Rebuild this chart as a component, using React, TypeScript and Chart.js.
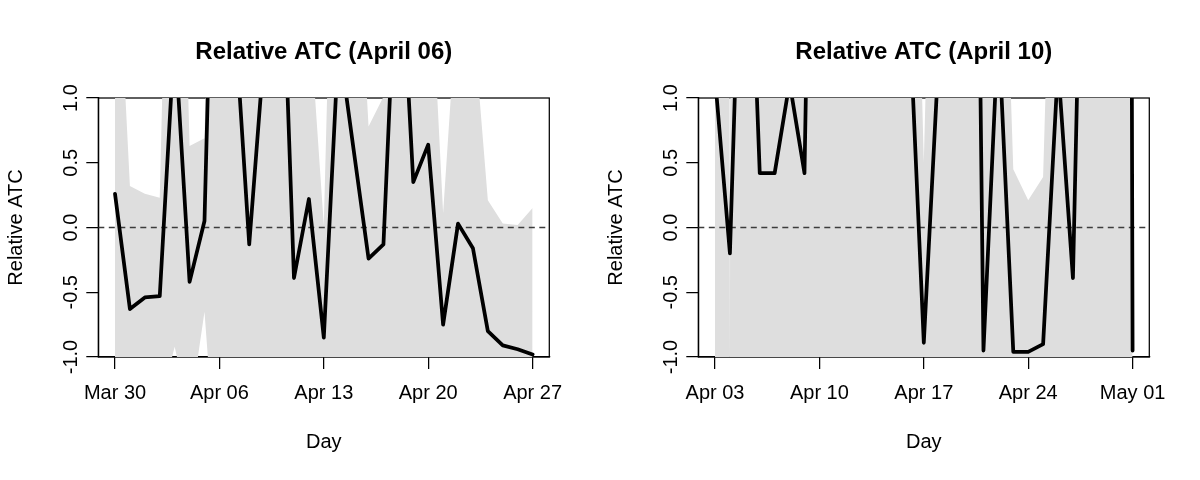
import React, { useEffect, useRef } from "react";
import { Chart, registerables } from "chart.js";

Chart.register(...registerables);

const FONT = "'Liberation Sans', Arial, Helvetica, sans-serif";

// ---------- data: left panel (April 06) ----------
const leftTitle = "Relative ATC (April 06)";
const leftDays = [
  "Mar 30", "Mar 31", "Apr 01", "Apr 02", "Apr 03", "Apr 04", "Apr 05", "Apr 06",
  "Apr 07", "Apr 08", "Apr 09", "Apr 10", "Apr 11", "Apr 12", "Apr 13", "Apr 14",
  "Apr 15", "Apr 16", "Apr 17", "Apr 18", "Apr 19", "Apr 20", "Apr 21", "Apr 22",
  "Apr 23", "Apr 24", "Apr 25", "Apr 26", "Apr 27",
];
const leftAtc = [
  0.26, -0.63, -0.54, -0.53, 1.5, -0.42, 0.05, 4.5, 1.67, -0.13, 1.36, 2.9, -0.39,
  0.22, -0.85, 1.45, 0.6, -0.24, -0.13, 2.5, 0.35, 0.64, -0.75, 0.03, -0.16, -0.8,
  -0.91, -0.94, -0.98,
];
const leftUpper = [
  2.6, 0.32, 0.26, 0.23, 5, 0.63, 0.69, 5.5, 2.4, 2.6, 2.8, 2.5, 2.3, 1.7, 0.02,
  4.5, 2.9, 0.78, 1.01, 3.0, 2.6, 2.4, 0.11, 1.85, 1.63, 0.21, 0.03, 0.02, 0.15,
];
const leftLower = [
  -2.5, -2.2, -2.0, -1.38, -0.92, -1.44, -0.65, -2.2, -2.6, -2.8, -2.5, -2.9, -2.4,
  -2.2, -2.6, -2.3, -2.7, -2.4, -2.2, -2.6, -2.5, -2.3, -2.8, -2.1, -2.4, -2.0,
  -1.9, -2.1, -2.2,
];

// ---------- data: right panel (April 10) ----------
const rightTitle = "Relative ATC (April 10)";
const rightDays = [
  "Apr 03", "Apr 04", "Apr 05", "Apr 06", "Apr 07", "Apr 08", "Apr 09", "Apr 10",
  "Apr 11", "Apr 12", "Apr 13", "Apr 14", "Apr 15", "Apr 16", "Apr 17", "Apr 18",
  "Apr 19", "Apr 20", "Apr 21", "Apr 22", "Apr 23", "Apr 24", "Apr 25", "Apr 26",
  "Apr 27", "Apr 28", "Apr 29", "Apr 30", "May 01",
];
const rightAtc = [
  1.16, -0.2, 3.5, 0.42, 0.42, 1.12, 0.42, 7, 4, 5, 4.5, 3.5, 3, 1.74, -0.89, 1.33,
  3, 9, -0.95, 1.55, -0.96, -0.96, -0.9, 1.25, -0.39, 4.8, 5, 40, -0.95,
];
const rightUpper = [
  90, -1.1, 90, 4, 4.5, 5, 4, 5, 4.5, 5, 4, 4.5, 5, 5, 0.5, 5, 4.5, 5, 4, 4, 0.45,
  0.21, 0.39, 4.4, 5, 4.5, 5, 4, 4.5,
];
const rightLower = [
  -3, -2.5, -3, -2.8, -2.6, -3, -2.7, -3, -2.9, -3, -2.8, -3, -2.6, -3, -2.7, -2.9,
  -3, -2.8, -3, -2.6, -2.9, -3, -2.7, -3, -2.8, -2.6, -3, -2.9, -3,
];

// ---------- axes ----------
const xTickIndex = [0, 7, 14, 21, 28];
const yTickValues = [-1, -0.5, 0, 0.5, 1];
const xAxisTitle = "Day";
const yAxisTitle = "Relative ATC";

type Panel = {
  title: string;
  days: string[];
  atc: number[];
  upper: number[];
  lower: number[];
};

const framePlugin = {
  id: "rframe",
  beforeDatasetsDraw(chart: any) {
    const { ctx, chartArea: a } = chart;
    ctx.save();
    ctx.strokeStyle = "#000";
    ctx.lineWidth = 1.25;
    ctx.strokeRect(a.left, a.top, a.right - a.left, a.bottom - a.top);
    ctx.restore();
  },
  afterDraw(chart: any, _args: any, opts: any) {
    const { ctx, chartArea: a } = chart;
    ctx.save();
    ctx.font = `bold 24px ${FONT}`;
    ctx.fillStyle = "#000";
    ctx.textAlign = "center";
    ctx.textBaseline = "alphabetic";
    ctx.fillText(opts.text, (a.left + a.right) / 2, 59);
    ctx.restore();
  },
};

function buildConfig(p: Panel): any {
  const span = p.days.length - 1;
  const xmin = -0.04 * span;
  const xmax = span + 0.04 * span;
  const pts = (arr: number[]) => arr.map((y, i) => ({ x: i, y }));
  const axisCommon = {
    grid: {
      drawOnChartArea: false,
      drawTicks: true,
      tickLength: 12,
      color: "#000",
      lineWidth: 1.25,
    },
    border: { display: true, color: "#000", width: 1.25 },
  };
  return {
    type: "line",
    data: {
      datasets: [
        {
          label: "Relative ATC",
          data: pts(p.atc),
          borderColor: "#000",
          borderWidth: 3.75,
          borderJoinStyle: "round",
          borderCapStyle: "round",
          pointRadius: 0,
          tension: 0,
          fill: false,
          clip: 0,
          order: 0,
        },
        {
          label: "zero",
          data: [
            { x: xmin, y: 0 },
            { x: xmax, y: 0 },
          ],
          borderColor: "#3c3c3c",
          borderWidth: 1.4,
          borderDash: [6, 4.5],
          pointRadius: 0,
          fill: false,
          clip: 0,
          order: 1,
        },
        {
          label: "upper",
          data: pts(p.upper),
          borderWidth: 0,
          borderColor: "transparent",
          backgroundColor: "#dedede",
          pointRadius: 0,
          tension: 0,
          fill: "+1",
          clip: 0,
          order: 2,
        },
        {
          label: "lower",
          data: pts(p.lower),
          borderWidth: 0,
          borderColor: "transparent",
          backgroundColor: "#dedede",
          pointRadius: 0,
          tension: 0,
          fill: false,
          clip: 0,
          order: 3,
        },
      ],
    },
    options: {
      responsive: false,
      devicePixelRatio: 1,
      animation: false,
      events: [],
      font: { family: FONT },
      layout: { padding: { top: 98, right: 50.7, bottom: 0, left: 0 } },
      plugins: {
        legend: { display: false },
        title: { display: false },
        tooltip: { enabled: false },
        rframe: { text: p.title },
      },
      scales: {
        x: {
          type: "linear",
          min: xmin,
          max: xmax,
          bounds: "data",
          afterBuildTicks: (s: any) => {
            s.ticks = xTickIndex.map((v) => ({ value: v }));
          },
          afterFit: (s: any) => {
            s.height = 123;
          },
          ticks: {
            callback: (v: number) => p.days[v],
            font: { family: FONT, size: 20 },
            color: "#000",
            padding: 12.7,
            autoSkip: false,
            maxRotation: 0,
            minRotation: 0,
          },
          title: {
            display: true,
            text: xAxisTitle,
            font: { family: FONT, size: 20 },
            color: "#000",
            padding: { top: 0, bottom: 26 },
          },
          ...axisCommon,
        },
        y: {
          type: "linear",
          min: -1,
          max: 1,
          bounds: "data",
          afterBuildTicks: (s: any) => {
            s.ticks = yTickValues.map((v) => ({ value: v }));
          },
          afterFit: (s: any) => {
            s.width = 98.3;
          },
          ticks: {
            callback: (v: number) => v.toFixed(1),
            font: { family: FONT, size: 20 },
            color: "#000",
            padding: -2.4,
            autoSkip: false,
            minRotation: 90,
            maxRotation: 90,
            crossAlign: "center",
          },
          title: {
            display: true,
            text: yAxisTitle,
            font: { family: FONT, size: 20 },
            color: "#000",
            padding: { top: 4, bottom: 0 },
          },
          ...axisCommon,
        },
      },
    },
    plugins: [framePlugin],
  };
}

function PanelChart({ panel }: { panel: Panel }) {
  const ref = useRef<HTMLCanvasElement | null>(null);
  useEffect(() => {
    if (!ref.current) return;
    const chart = new Chart(ref.current, buildConfig(panel));
    return () => chart.destroy();
  }, [panel]);
  return (
    <canvas
      ref={ref}
      width={600}
      height={480}
      style={{ display: "block", width: 600, height: 480 }}
    />
  );
}

const leftPanel: Panel = {
  title: leftTitle,
  days: leftDays,
  atc: leftAtc,
  upper: leftUpper,
  lower: leftLower,
};
const rightPanel: Panel = {
  title: rightTitle,
  days: rightDays,
  atc: rightAtc,
  upper: rightUpper,
  lower: rightLower,
};

export default function App() {
  return (
    <div
      style={{
        position: "absolute",
        left: 0,
        top: 0,
        width: 1200,
        height: 480,
        display: "flex",
        background: "#fff",
      }}
    >
      <PanelChart panel={leftPanel} />
      <PanelChart panel={rightPanel} />
    </div>
  );
}
